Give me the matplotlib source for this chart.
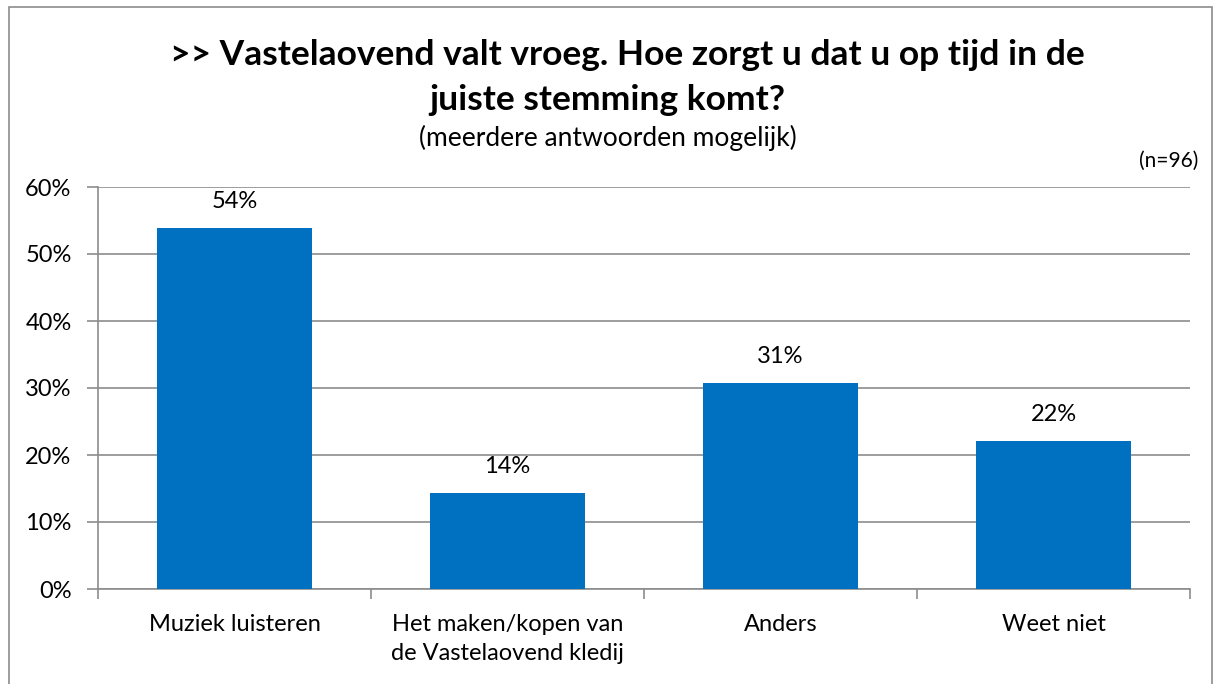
import matplotlib.pyplot as plt
from matplotlib.patches import Rectangle

categories = ["Muziek luisteren", "Het maken/kopen van\nde Vastelaovend kledij", "Anders", "Weet niet"]
values = [53.9, 14.3, 30.7, 22.1]
labels = ["54%", "14%", "31%", "22%"]
yticks = [0, 10, 20, 30, 40, 50, 60]

plt.rcParams["font.family"] = ["Lato", "DejaVu Sans"]
grid_col = "#8c8c8c"
bar_col = "#0070C0"

fig = plt.figure(figsize=(12.15, 6.84), dpi=100)
ax = fig.add_axes([98 / 1215, 1 - 589 / 684, 1092 / 1215, 402 / 684])

x = list(range(len(categories)))
ax.bar(x, values, width=0.57, color=bar_col, zorder=3)
for xi, v, lab in zip(x, values, labels):
    ax.text(xi, v + 4.0, lab, ha="center", va="center", fontsize=17)

ax.set_xlim(-0.5, len(categories) - 0.5)
ax.set_ylim(0, 60)
ax.set_yticks(yticks)
ax.set_yticklabels([f"{t}%" for t in yticks], fontsize=17)
ax.yaxis.grid(True, color=grid_col, linewidth=1.2, zorder=0)
ax.tick_params(axis="y", length=8, color=grid_col, width=1.2, pad=11)

ax.set_xticks(x)
ax.set_xticklabels(categories, fontsize=17, linespacing=1.45)
ax.set_xticks([i - 0.5 for i in range(len(categories) + 1)], minor=True)
ax.tick_params(axis="x", which="major", length=0, pad=18)
ax.tick_params(axis="x", which="minor", length=7, color=grid_col, width=1.2)

for side in ["top", "right"]:
    ax.spines[side].set_visible(False)
for side in ["left", "bottom"]:
    ax.spines[side].set_color(grid_col)
    ax.spines[side].set_linewidth(1.2)

fig.text(627 / 1215, 1 - 55 / 684, ">> Vastelaovend valt vroeg. Hoe zorgt u dat u op tijd in de",
         ha="center", va="center", fontsize=25.5, fontweight="bold")
fig.text(0.5, 1 - 100 / 684, "juiste stemming komt?",
         ha="center", va="center", fontsize=25.5, fontweight="bold")
fig.text(0.5, 1 - 138 / 684, "(meerdere antwoorden mogelijk)", ha="center", va="center", fontsize=19)
fig.text(1198 / 1215, 1 - 161 / 684, "(n=96)", ha="right", va="center", fontsize=15)

fig.patches.append(Rectangle((9 / 1215, -0.01), 1203 / 1215, 1 - 7 / 684 + 0.01, transform=fig.transFigure,
                             fill=False, edgecolor=grid_col, linewidth=1.2))

fig.savefig("out.png", dpi=100)
